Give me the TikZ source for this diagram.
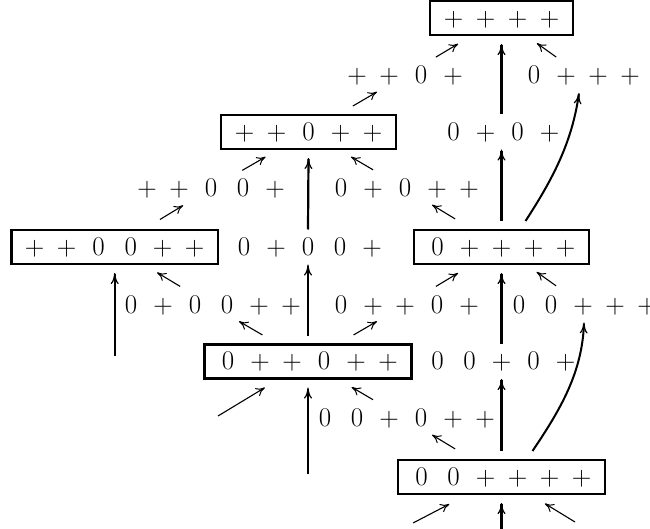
\documentclass[tikz,border=0pt]{standalone}
\usetikzlibrary{arrows.meta,calc}
\newcommand\cc[1]{\makebox[32pt]{#1}}
\newcommand\sgp{\cc{+}}
\newcommand\sgz{\cc{0}}
\tikzset{
  lbl/.style={inner sep=0pt, outer xsep=0pt, outer ysep=9.4pt,
    text height=16.2pt, text depth=0pt, font=\fontsize{27}{32}\selectfont},
  bx/.style={lbl, draw, line width=2.6pt, inner xsep=7.4pt, inner ysep=0pt,
    minimum height=34pt, outer sep=9pt},
  dar/.style={line width=1.1pt,
    -{Computer Modern Rightarrow[length=9pt,width=9pt,line width=1pt]}},
  var/.style={line width=2.2pt,
    -{Computer Modern Rightarrow[length=11pt,width=8pt,line width=1.2pt]}},
  varC/.style={var, line width=2.7pt},
  car/.style={line width=2pt,
    -{Computer Modern Rightarrow[length=11pt,width=8pt,line width=1.2pt]}},
}
\begin{document}
\begin{tikzpicture}[x=1pt,y=1pt]
\useasboundingbox (0,0) rectangle (650,-529);
% boxes
\node[bx] (b1) at (501.5,-18)   {\sgp\sgp\sgp\sgp};
\node[bx] (b2) at (308.5,-132)  {\sgp\sgp\sgz\sgp\sgp};
\node[bx] (b3) at (114.7,-247)  {\sgp\sgp\sgz\sgz\sgp\sgp};
\node[bx] (b4) at (501.5,-247)  {\sgz\sgp\sgp\sgp\sgp};
\node[bx] (b5) at (308,-361.5)  {\sgz\sgp\sgp\sgz\sgp\sgp};
\node[bx] (b6) at (501.5,-477)  {\sgz\sgz\sgp\sgp\sgp\sgp};
% labels
\node[lbl] (t1a) at (405,-75.5)  {\sgp\sgp\sgz\sgp};
\node[lbl] (t1b) at (582,-75.5)  {\sgz\sgp\sgp\sgp};
\node[lbl] (t2)  at (501.5,-132) {\sgz\sgp\sgz\sgp};
\node[lbl] (t3a) at (211,-188.5) {\sgp\sgp\sgz\sgz\sgp};
\node[lbl] (t3b) at (405,-188.5) {\sgz\sgp\sgz\sgp\sgp};
\node[lbl] (t4)  at (308,-247)   {\sgz\sgp\sgz\sgz\sgp};
\node[lbl] (t5a) at (211,-305)   {\sgz\sgp\sgz\sgz\sgp\sgp};
\node[lbl] (t5b) at (405,-305)   {\sgz\sgp\sgp\sgz\sgp};
\node[lbl] (t5c) at (583,-305)   {\sgz\sgz\sgp\sgp\sgp};
\node[lbl] (t6)  at (501.5,-361.5) {\sgz\sgz\sgp\sgz\sgp};
\node[lbl] (t7)  at (405,-418.5) {\sgz\sgz\sgp\sgz\sgp\sgp};
% free ends
\coordinate (f1) at (218,-416);
\coordinate (f2) at (413,-523);
\coordinate (f3) at (575,-522);
\coordinate (f4) at (114.7,-356);
\coordinate (f5) at (308,-474);
\coordinate (f6) at (501.5,-532);
% diagonal arrows
\draw[dar] ($(t1a)!0.32!(b1)$) -- ($(t1a)!0.55!(b1)$);
\draw[dar] ($(t1b)!0.32!(b1)$) -- ($(t1b)!0.56!(b1)$);
\draw[dar] ($(t1a)!0.54!(b2)$) -- ($(t1a)!0.29!(b2)$);
\draw[dar] ($(t3a)!0.32!(b2)$) -- ($(t3a)!0.56!(b2)$);
\draw[dar] ($(t3b)!0.33!(b2)$) -- ($(t3b)!0.56!(b2)$);
\draw[dar] ($(t3a)!0.53!(b3)$) -- ($(t3a)!0.29!(b3)$);
\draw[dar] ($(t3b)!0.52!(b4)$) -- ($(t3b)!0.28!(b4)$);
\draw[dar] ($(t5a)!0.32!(b3)$) -- ($(t5a)!0.56!(b3)$);
\draw[dar] ($(t5b)!0.32!(b4)$) -- ($(t5b)!0.55!(b4)$);
\draw[dar] ($(t5c)!0.33!(b4)$) -- ($(t5c)!0.57!(b4)$);
\draw[dar] ($(t5a)!0.53!(b5)$) -- ($(t5a)!0.29!(b5)$);
\draw[dar] ($(t5b)!0.53!(b5)$) -- ($(t5b)!0.29!(b5)$);
\draw[dar] ($(t7)!0.33!(b5)$) -- ($(t7)!0.55!(b5)$);
\draw[dar] ($(t7)!0.52!(b6)$) -- ($(t7)!0.28!(b6)$);
\draw[dar] (f1) -- ($(f1)!0.52!(b5)$);
\draw[dar] (f2) -- ($(f2)!0.41!(b6)$);
\draw[dar] (f3) -- ($(f3)!0.41!(b6)$);
% vertical arrows
\draw[varC] (t2.north) -- (b1.south);
\draw[varC] (b4.north) -- (t2.south);
\draw[var] (t4.north) -- (b2.south);
\draw[var] (b5.north) -- (t4.south);
\draw[var] (f4) -- (b3.south);
\draw[varC] (t6.north) -- (b4.south);
\draw[varC] (b6.north) -- (t6.south);
\draw[var] (f5) -- (b5.south);
\draw[varC] (f6) -- (b6.south);
% curved arrows
\draw[car] ([xshift=24pt]b4.north) .. controls +(57:50) and +(-98:50) .. ([xshift=-3pt]t1b.south);
\draw[car] ([xshift=31pt]b6.north) .. controls +(56:50) and +(-92:50) .. ([xshift=1pt]t5c.south);
\end{tikzpicture}
\end{document}
